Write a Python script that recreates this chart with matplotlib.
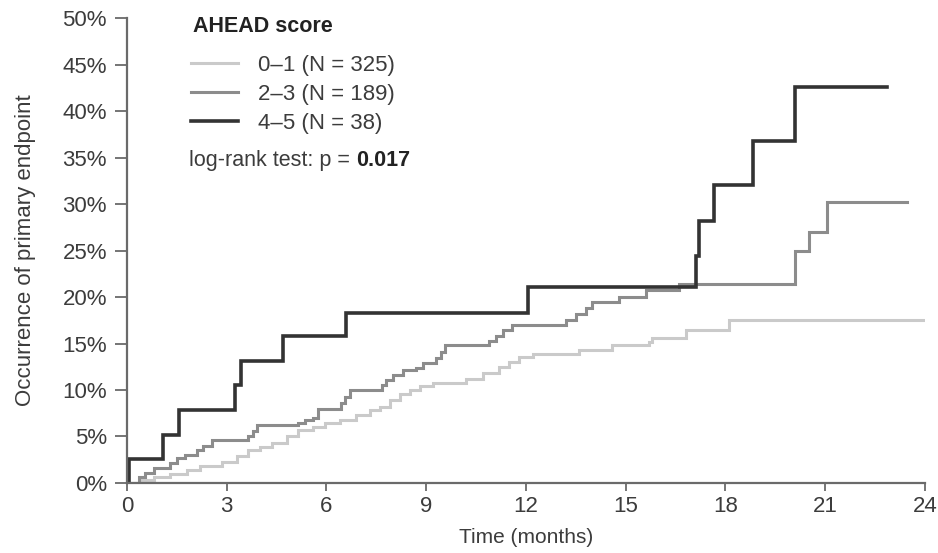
import matplotlib
matplotlib.use("Agg")
import matplotlib.pyplot as plt
from matplotlib.lines import Line2D

plt.rcParams['font.family'] = ['Liberation Sans', 'DejaVu Sans']

# Kaplan-Meier style cumulative incidence (months, %)
t_01 = [0, 0.45, 0.8, 1.3, 1.8, 2.2, 2.85, 3.3, 3.65, 4.0, 4.35, 4.8, 5.15, 5.6, 5.95,
        6.4, 6.9, 7.3, 7.6, 7.9, 8.2, 8.5, 8.8, 9.2, 10.2, 10.7, 11.2, 11.5, 11.8, 12.2,
        13.6, 14.6, 15.7, 15.8, 16.8, 18.1, 24.0]
v_01 = [0, 0.3, 0.6, 1.0, 1.4, 1.8, 2.3, 2.9, 3.5, 3.9, 4.3, 5.0, 5.7, 6.0, 6.4,
        6.8, 7.3, 7.8, 8.2, 8.9, 9.6, 10.0, 10.4, 10.7, 11.2, 11.8, 12.5, 13.0, 13.6, 13.9,
        14.3, 14.8, 15.2, 15.6, 16.4, 17.5, 17.5]

t_23 = [0, 0.35, 0.55, 0.8, 1.3, 1.5, 1.75, 2.1, 2.3, 2.55, 3.65, 3.8, 3.9, 5.15, 5.35,
        5.6, 5.75, 6.45, 6.55, 6.7, 7.66, 7.8, 8.0, 8.3, 8.7, 8.9, 9.3, 9.45, 9.56, 10.9,
        11.1, 11.3, 11.57, 13.2, 13.5, 13.8, 14.0, 14.8, 15.6, 16.6, 20.1, 20.5, 21.05, 23.45]
v_23 = [0, 0.6, 1.1, 1.6, 2.1, 2.7, 3.0, 3.5, 4.0, 4.6, 5.0, 5.6, 6.2, 6.4, 6.8,
        7.0, 8.0, 8.6, 9.3, 10.0, 10.5, 11.1, 11.6, 12.2, 12.4, 12.9, 13.4, 14.1, 14.8, 15.3,
        15.8, 16.4, 17.0, 17.5, 18.2, 18.8, 19.5, 20.0, 20.7, 21.4, 25.0, 27.0, 30.2, 30.2]

t_45 = [0, 0.05, 1.08, 1.57, 3.25, 3.42, 4.7, 6.6, 12.06, 17.1, 17.2, 17.66, 18.84, 20.1, 22.85]
v_45 = [0, 2.6, 5.2, 7.9, 10.5, 13.1, 15.8, 18.3, 21.1, 24.4, 28.2, 32.0, 36.8, 42.6, 42.6]

labels = ["0\u20131 (N = 325)", "2\u20133 (N = 189)", "4\u20135 (N = 38)"]
colors = ["#cacaca", "#8c8c8c", "#333333"]
widths = [2.2, 2.2, 2.6]

xticks = list(range(0, 25, 3))
yticks = list(range(0, 51, 5))
txt = "#3c3c3c"

fig = plt.figure(figsize=(9.38, 5.53), dpi=100)
ax = fig.add_axes([0.1354, 0.1266, 0.8507, 0.8408])

for t, v, c, lw in zip([t_01, t_23, t_45], [v_01, v_23, v_45], colors, widths):
    ax.plot(t, v, drawstyle='steps-post', color=c, lw=lw, solid_joinstyle='miter')

ax.set_xlim(0, 24)
ax.set_ylim(0, 50)
ax.set_xticks(xticks)
ax.set_yticks(yticks)
ax.set_yticklabels(["%d%%" % y for y in yticks])
for s in ['top', 'right']:
    ax.spines[s].set_visible(False)
for s in ['left', 'bottom']:
    ax.spines[s].set_color('#6a6a6a')
    ax.spines[s].set_linewidth(1.6)
ax.tick_params(axis='both', direction='out', width=1.3, color='#6a6a6a',
               labelsize=16, labelcolor=txt)
ax.tick_params(axis='x', length=6, pad=3.5)
ax.tick_params(axis='y', length=8.4, pad=6)

ax.set_xlabel("Time (months)", fontsize=15, color=txt, va='center')
ax.xaxis.set_label_coords(0.5, -0.118)
ax.set_ylabel("Occurrence of primary endpoint", fontsize=16, color=txt, va='center')
ax.yaxis.set_label_coords(-0.127, 0.5)

ax.text(0.0827, 0.9705, "AHEAD score", transform=ax.transAxes, fontsize=15.5,
        fontweight='bold', color='#222222', va='baseline')

handles = [Line2D([], [], color=c, lw=lw) for c, lw in zip(colors, widths)]
leg = ax.legend(handles, labels, loc='upper left', bbox_to_anchor=(0.08, 0.92),
                frameon=False, fontsize=16, handlelength=2.1, handletextpad=0.9,
                labelspacing=0.36, borderpad=0.0, borderaxespad=0.0)
for tx in leg.get_texts():
    tx.set_color(txt)

t1 = ax.text(0.0777, 0.682, "log-rank test: p = ", transform=ax.transAxes,
             fontsize=15.5, color=txt, va='baseline')
ax.annotate("0.017", xy=(1, 0), xycoords=t1, va='bottom', fontsize=15.5,
            fontweight='bold', color='#222222')

fig.savefig("out.png", dpi=100)
